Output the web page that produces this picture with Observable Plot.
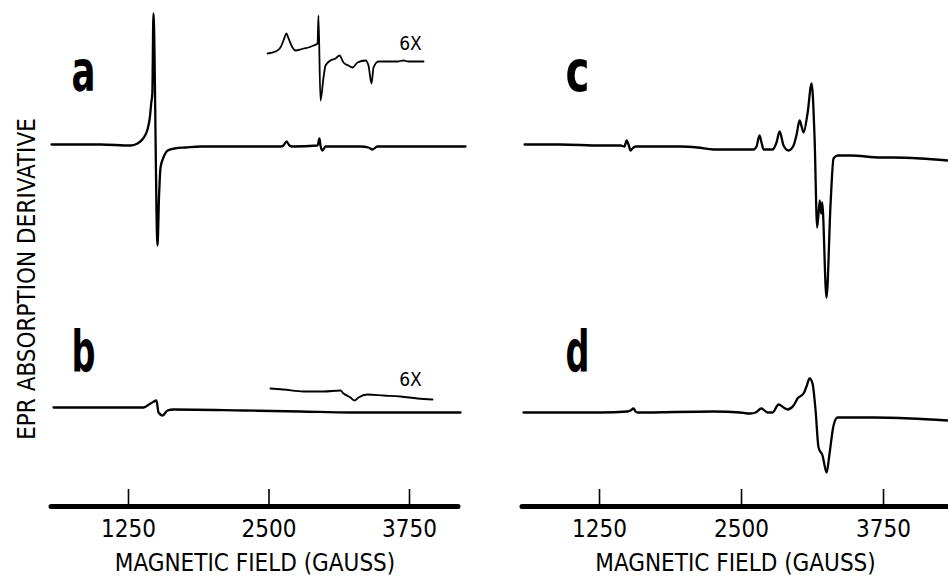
<!DOCTYPE html>
<html><head><meta charset="utf-8">
<script src="https://cdn.jsdelivr.net/npm/d3@7"></script>
<script src="https://cdn.jsdelivr.net/npm/@observablehq/plot@0.6"></script>
<style>
html,body{margin:0;padding:0;background:#fff;}
#fig{position:relative;width:948px;height:577px;overflow:hidden;background:#fff;}
#left,#right{position:absolute;top:0;}
#left{left:0;} #right{left:474px;}
</style></head>
<body><div id="fig"><div id="left"></div><div id="right"></div></div>
<script>
// ---------- data (field in gauss, derivative signal in arbitrary units) ----------
const xTicks = [1250, 2500, 3750];
const xLabel = "MAGNETIC FIELD (GAUSS)";
const yLabel = "EPR ABSORPTION DERIVATIVE";
const insetLabel = "6X";
const leftPanels = ["a", "b"];
const rightPanels = ["c", "d"];

const traceA = [[565,1],[1001,1],[1268,0],[1330,2],[1380,7],[1419,16],[1440,28],[1452,42],[1462,52],[1472,132],[1508,-100],[1522,-50],[1535,-22],[1561,-12],[1600,-5],[1660,-3],[1760,-2],[1891,-1],[2335,-1],[2602,-1],[2629,0],[2656,4],[2682,0],[2709,-1],[2932,0],[2949,7],[2958,0],[2976,-5],[3003,-1],[3074,-1],[3314,-1],[3385,-2],[3421,-4],[3465,-1],[3937,-1],[4248,-1]];
const insetA = [[2487,7],[2558,9],[2602,13],[2629,20],[2656,27],[2674,22],[2709,13],[2736,10],[2780,11],[2807,12],[2851,13],[2896,15],[2932,17],[2940,45],[2958,-40],[2985,-17],[3003,-5],[3047,0],[3092,2],[3127,5],[3163,-2],[3207,-5],[3243,-7],[3287,-2],[3359,0],[3385,-5],[3412,-23],[3430,-7],[3474,-1],[3554,-1],[3643,-1],[3697,0],[3741,-1],[3875,-1]];
const traceB = [[583,1],[1384,1],[1446,5],[1499,8],[1517,-4],[1553,-7],[1597,-2],[1650,-1],[2273,-2],[2780,-3],[3225,-4],[4204,-4]];
const insetB = [[2513,0],[2629,-1],[2807,-3],[2985,-3],[3136,-2],[3163,-5],[3225,-9],[3261,-12],[3296,-9],[3376,-6],[3519,-7],[3670,-8],[3821,-10],[3955,-11]];
const traceC = [[590,0],[907,0],[1259,-1],[1435,-1],[1470,-2],[1488,4],[1505,0],[1523,-6],[1540,-4],[1567,-2],[1963,-2],[2113,-3],[2254,-5],[2465,-5],[2606,-5],[2632,-2],[2658,9],[2676,2],[2694,-5],[2773,-5],[2808,2],[2835,13],[2870,-1],[2914,-6],[2958,-1],[2985,10],[3011,24],[3029,18],[3046,12],[3081,31],[3117,61],[3143,7],[3166,-83],[3189,-56],[3201,-69],[3210,-58],[3248,-153],[3284,-59],[3310,-14],[3345,-11],[3460,-11],[3724,-13],[3838,-13],[4076,-14],[4313,-16]];
const traceD = [[581,0],[1259,0],[1496,1],[1523,2],[1549,4],[1567,1],[1585,0],[2254,1],[2491,0],[2553,-1],[2579,-1],[2623,0],[2676,4],[2729,0],[2773,0],[2826,8],[2870,5],[2905,3],[2958,7],[2993,14],[3046,19],[3072,26],[3099,34],[3125,29],[3152,2],[3178,-35],[3213,-43],[3249,-60],[3275,-41],[3310,-13],[3345,-5],[3398,-5],[3662,-5],[3988,-6],[4313,-8]];

// ---------- drawing ----------
const FONT = '"DejaVu Sans Condensed", "DejaVu Sans", sans-serif';
const LETTER_FONT = '"DejaVu Sans Condensed", "DejaVu Sans", sans-serif';

function column(el, cfg) {
  const [top, bot] = cfg.names;
  const yMin = cfg.yDomain[0];
  const X = d => d[0], Y = d => d[1];
  const inTop = () => top, inBot = () => bot;
  const line = {stroke: "#000", strokeLinejoin: "round", curve: "monotone-x"};
  const letter = {frameAnchor: "top-left", dx: cfg.letterDx, fontSize: 57, fontWeight: "bold", fontFamily: LETTER_FONT, textAnchor: "start", lineAnchor: "bottom"};
  const marks = [
    Plot.line(cfg.main[0], {x: X, y: Y, fy: inTop, strokeWidth: 2.3, ...line}),
    Plot.line(cfg.main[1], {x: X, y: Y, fy: inBot, strokeWidth: 2.3, ...line}),
    Plot.ruleY([yMin], {fy: inBot, stroke: "#000", strokeWidth: 5, strokeLinecap: "round"}),
    Plot.ruleX(xTicks, {x: d => d, fy: inBot, y1: yMin, y2: yMin + 17, stroke: "#000", strokeWidth: 1.6}),
    Plot.axisX({ticks: xTicks, tickSize: 0, tickPadding: 13, tickFormat: "d", fontSize: 24, label: null}),
    Plot.text([xLabel], {text: d => d, fy: inBot, frameAnchor: "bottom", dy: 57, fontSize: 24, textAnchor: "middle", lineAnchor: "middle"}),
    Plot.text([top], {text: d => d, fy: inTop, dy: cfg.letterDy[0], ...letter}),
    Plot.text([bot], {text: d => d, fy: inBot, dy: cfg.letterDy[1], ...letter})
  ];
  if (cfg.insets) {
    marks.push(
      Plot.line(cfg.insets[0], {x: X, y: Y, fy: inTop, dy: -85, strokeWidth: 1.8, ...line}),
      Plot.line(cfg.insets[1], {x: X, y: Y, fy: inBot, dy: -20, strokeWidth: 1.8, ...line}),
      Plot.text([insetLabel], {text: d => d, fy: inTop, frameAnchor: "top-left", dx: 359, dy: 43, fontSize: 19, textAnchor: "middle", lineAnchor: "middle"}),
      Plot.text([insetLabel], {text: d => d, fy: inBot, frameAnchor: "top-left", dx: 359, dy: 116, fontSize: 19, textAnchor: "middle", lineAnchor: "middle"}),
      Plot.text([yLabel], {text: d => d, fy: inTop, frameAnchor: "left", rotate: -90, dx: -24, dy: 157, fontSize: 24, textAnchor: "middle", lineAnchor: "middle"})
    );
  }
  const chart = Plot.plot({
    width: 474, height: 577,
    marginTop: 0, marginBottom: 71, marginLeft: cfg.marginLeft, marginRight: cfg.marginRight,
    facet: {marginTop: 0, marginRight: 0, marginBottom: 0, marginLeft: 0},
    x: {domain: cfg.xDomain},
    y: {domain: cfg.yDomain, axis: null},
    fy: {domain: cfg.names, paddingInner: cfg.pad, paddingOuter: 0, round: false, axis: null},
    style: {fontFamily: FONT, color: "#000", background: "transparent", overflow: "visible"},
    marks
  });
  // narrow, lettering-style panel letters
  chart.querySelectorAll('g[font-weight="bold"] text').forEach(t => {
    t.setAttribute("textLength", "24");
    t.setAttribute("lengthAdjust", "spacingAndGlyphs");
  });
  el.appendChild(chart);
}

column(document.getElementById("left"), {
  names: leftPanels, main: [traceA, traceB], insets: [insetA, insetB],
  xDomain: [565, 4186], yDomain: [-98, 145], marginLeft: 51, marginRight: 16,
  pad: 20 / 263, letterDx: 20, letterDy: [90, 107]
});
column(document.getElementById("right"), {
  names: rightPanels, main: [traceC, traceD], insets: null,
  xDomain: [572, 4322], yDomain: [-94, 144], marginLeft: 48, marginRight: 0,
  pad: 30 / 268, letterDx: 43, letterDy: [90, 102]
});
</script>
</body></html>
